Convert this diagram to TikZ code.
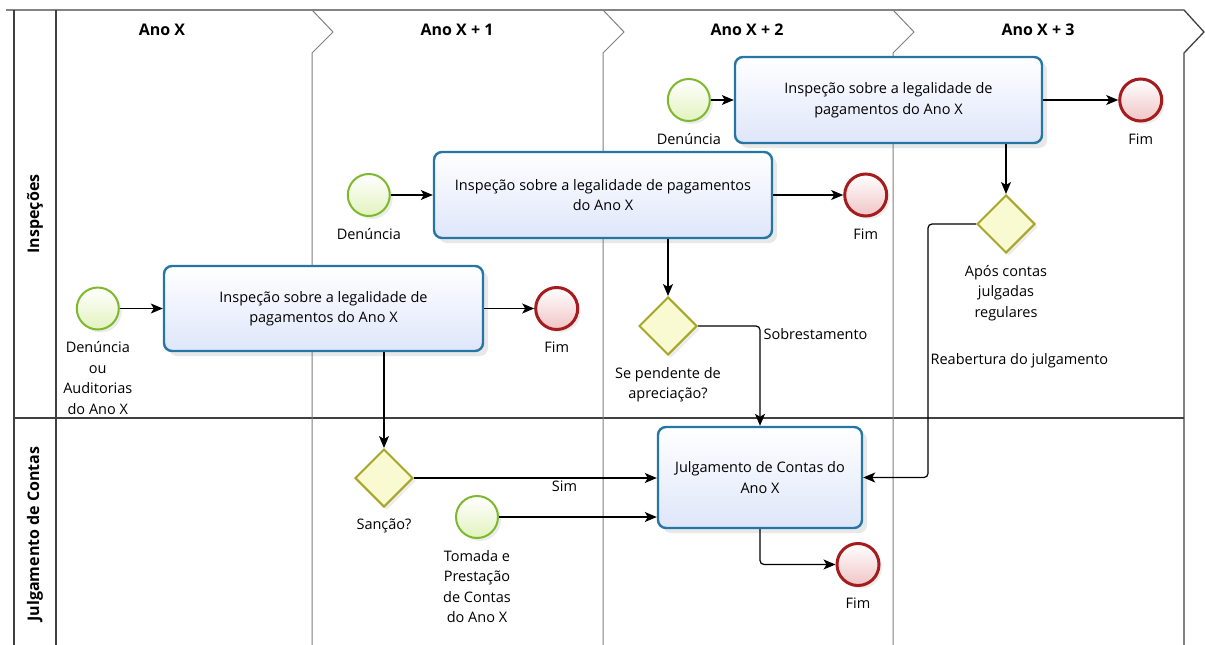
\documentclass[tikz,border=0pt]{standalone}
\usepackage{fontspec}
\setmainfont{Open Sans}
\usetikzlibrary{arrows.meta, positioning, shapes.geometric, shadows}

\definecolor{taskline}{RGB}{38,118,164}
\definecolor{taskfill}{RGB}{222,230,250}
\definecolor{startline}{RGB}{126,184,44}
\definecolor{startfill}{RGB}{226,243,190}
\definecolor{endline}{RGB}{164,28,30}
\definecolor{endfill}{RGB}{240,196,198}
\definecolor{gateline}{RGB}{166,166,40}
\definecolor{gatefill}{RGB}{250,250,210}

\begin{document}
\begin{tikzpicture}[
  x=1pt, y=-1pt,
  font=\fontsize{14.5}{20.5}\selectfont,
  label distance=9pt,
  frame/.style={draw=black!75, line width=1.3pt},
  divider/.style={draw=black!50, line width=1pt},
  phase/.style={font=\fontsize{16}{18}\selectfont\bfseries, inner sep=0pt},
  lane/.style={font=\fontsize{16}{18}\selectfont\bfseries, rotate=90, inner sep=0pt},
  task/.style={
    rounded corners=8pt, draw=taskline, line width=2.4pt,
    top color=white, bottom color=taskfill, align=center, inner sep=4pt,
    drop shadow={shadow xshift=5pt, shadow yshift=-5pt, opacity=0.18}
  },
  startev/.style={
    circle, draw=startline, line width=2pt, top color=white, bottom color=startfill,
    minimum size=42pt, inner sep=0pt,
    drop shadow={shadow xshift=3pt, shadow yshift=-3pt, opacity=0.15}
  },
  endev/.style={
    circle, draw=endline, line width=3pt, top color=white, bottom color=endfill,
    minimum size=42pt, inner sep=0pt,
    drop shadow={shadow xshift=3pt, shadow yshift=-3pt, opacity=0.15}
  },
  gate/.style={
    diamond, draw=gateline, line width=2pt, fill=gatefill,
    minimum size=58pt, inner sep=0pt,
    drop shadow={shadow xshift=3pt, shadow yshift=-3pt, opacity=0.15}
  },
  lbl/.style={align=center, inner sep=2pt},
  flow/.style={draw=black, line width=1.2pt, rounded corners=4pt,
    -{Stealth[length=12pt, width=10pt, inset=3pt]}}
]
  \useasboundingbox (0,0) rectangle (1205,645);

  % pool, lanes and phases
  \draw[frame] (6,10) -- (1184,10) -- (1204,32) -- (1184,53) -- (1184,645);
  \draw[frame] (14,10) -- (14,645);
  \draw[frame] (56,10) -- (56,645);
  \draw[frame] (14,418) -- (1184,418);
  \draw[divider] (312,10) -- (333,32) -- (312,53) -- (312,645);
  \draw[divider] (603,10) -- (624,32) -- (603,53) -- (603,645);
  \draw[divider] (893,10) -- (914,32) -- (893,53) -- (893,645);

  \node[phase] (ano0) at (162,30) {Ano X};
  \node[phase] (ano1) at (457,30) {Ano X + 1};
  \node[phase] (ano2) at (747,30) {Ano X + 2};
  \node[phase] (ano3) at (1038,30) {Ano X + 3};
  \node[lane] (insp) at (35,214) {Inspeções};
  \node[lane] (julgam) at (35,534) {Julgamento de Contas};

  % inspecoes
  \node[task, minimum width=319pt, minimum height=85pt] (insp1) at (323.5,308.5)
    {Inspeção sobre a legalidade de\\pagamentos do Ano X};
  \node[startev, left=43pt of insp1,
    label={[lbl]below:{Denúncia\\ou\\Auditorias\\do Ano X}}] (den1) {};
  \node[endev, right=50pt of insp1, label={[lbl]below:Fim}] (fim1) {};

  \node[task, minimum width=338pt, minimum height=86pt] (insp2) at (603,195)
    {Inspeção sobre a legalidade de pagamentos\\do Ano X};
  \node[startev, left=42pt of insp2, label={[lbl]below:Denúncia}] (den2) {};
  \node[endev, right=70pt of insp2, label={[lbl]below:Fim}] (fim2) {};

  \node[task, minimum width=307pt, minimum height=86pt] (insp3) at (888.5,100)
    {Inspeção sobre a legalidade de\\pagamentos do Ano X};
  \node[startev, left=23pt of insp3, label={[lbl]below:Denúncia}] (den3) {};
  \node[endev, right=75pt of insp3, label={[lbl]below:Fim}] (fim3) {};

  \node[gate, label={[lbl]below:{Se pendente de\\apreciação?}}] (pend) at (668,326) {};
  \node[gate, label={[lbl]below:{Após contas\\julgadas\\regulares}}] (apos) at (1006,224) {};

  % julgamento de contas
  \node[gate, label={[lbl]below:Sanção?}] (sancao) at (384,478) {};
  \node[startev, label={[lbl]below:{Tomada e\\Prestação\\de Contas\\do Ano X}}] (tomada) at (477,517) {};
  \node[task, minimum width=204pt, minimum height=101pt] (julg) at (760,477.5)
    {Julgamento de Contas do\\Ano X};
  \node[endev, label={[lbl]below:Fim}] (fim4) at (858,564.5) {};

  % flows
  \draw[flow] (den1) -- (insp1);
  \draw[flow] (insp1) -- (fim1);
  \draw[flow] (sancao.north |- insp1.south) -- (sancao.north);
  \draw[flow] (den2) -- (insp2);
  \draw[flow] (insp2) -- (fim2);
  \draw[flow] (pend.north |- insp2.south) -- (pend.north);
  \draw[flow] (den3) -- (insp3);
  \draw[flow] (insp3) -- (fim3);
  \draw[flow] (apos.north |- insp3.south) -- (apos.north);
  \draw[flow] (pend.east) -| node[lbl, pos=0.5, anchor=north west, xshift=1pt] {Sobrestamento} (julg.north);
  \draw[flow] (apos.west) -- ++(-48,0) |- node[lbl, pos=0.27, anchor=west] {Reabertura do julgamento} (julg.east);
  \draw[flow] (sancao.east) -- node[lbl, pos=0.62, below] {Sim} (sancao.east -| julg.west);
  \draw[flow] (tomada) -- (tomada -| julg.west);
  \draw[flow] (julg.south) |- (fim4);
\end{tikzpicture}
\end{document}
